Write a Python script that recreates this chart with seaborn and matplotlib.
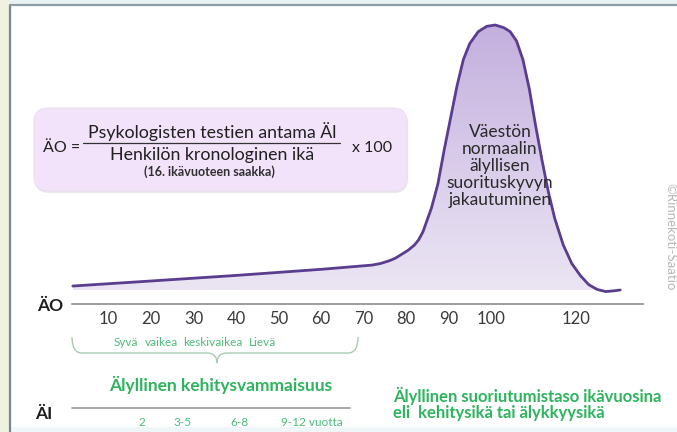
import numpy as np
import matplotlib
matplotlib.use("Agg")
import matplotlib.pyplot as plt
import seaborn as sns
from matplotlib.patches import FancyBboxPatch, PathPatch, Rectangle, Polygon
from matplotlib.path import Path
from matplotlib.transforms import Affine2D
from matplotlib.colors import LinearSegmentedColormap

# Population distribution curve: ÄO value vs relative height
iq = [1.6, 20, 40, 60, 72, 74, 76, 77.5, 79, 80.5, 82, 83, 84, 86, 87.5, 89, 90.5,
      92, 93.5, 95, 97, 99, 101, 103, 104.5, 106, 107.5, 109, 110.5, 112, 113.5,
      115, 117, 119, 121, 123, 125, 127, 129, 130.4]
height = [1.5, 3.4, 5.5, 7.8, 9.4, 10, 11, 12, 13.5, 15, 17, 19, 22, 31, 40, 53, 65,
          77, 87, 93, 97.5, 99.5, 100, 99, 97.5, 94, 87, 76, 62, 49, 37,
          27, 17, 10, 5.5, 2, 0.2, -0.6, -0.3, 0]
iq_ticks = [10, 20, 30, 40, 50, 60, 70, 80, 90, 100, 120]
levels = ["Syvä", "vaikea", "keskivaikea", "Lievä"]
ages = ["2", "3-5", "6-8", "9-12 vuotta"]
curve_text = "Väestön\nnormaalin\nälyllisen\nsuorituskyvyn\njakautuminen"

sns.set_style("white")
plt.rcParams["font.family"] = ["Lato", "DejaVu Sans"]

W, H = 677, 432
fig = plt.figure(figsize=(W / 100, H / 100), dpi=100)
fig.patch.set_facecolor("white")
ax = fig.add_axes([0, 0, 1, 1])
ax.patch.set_alpha(0)

# pixel mapping of the axes (value -> picture position)
x0, kx = 66, 4.25
y0, ky = 290, 2.65
px = Affine2D().scale(1 / W, -1 / H).translate(0, 1) + fig.transFigure

line_col = "#5a3d8e"
green = "#2fb35f"
light_green = "#4dba7c"

# curve and gradient fill
sns.lineplot(x=iq, y=height, ax=ax, color=line_col, lw=2.0, sort=False, zorder=5)
area = Polygon(list(zip(iq, height)) + [(iq[-1], 0), (iq[0], 0)], closed=True,
               fc="none", ec="none", transform=ax.transData)
ax.add_patch(area)
cmap = LinearSegmentedColormap.from_list("fillg", ["#ebe5f3", "#d8cbea", "#c3afdd"])
grad = np.linspace(0, 1, 256).reshape(-1, 1)
im = ax.imshow(grad, extent=[min(iq), max(iq), 0, max(height)], origin="lower",
               cmap=cmap, aspect="auto", zorder=2)
im.set_clip_path(area)

ax.set_xlim(-x0 / kx, (W - x0) / kx)
ax.set_ylim((y0 - H) / ky, y0 / ky)

# ÄO axis
sns.despine(ax=ax, left=True)
ax.spines["bottom"].set_position(("data", (y0 - 304) / ky))
ax.spines["bottom"].set_bounds((72 - x0) / kx, (643 - x0) / kx)
ax.spines["bottom"].set_color("#8c8c8c")
ax.spines["bottom"].set_linewidth(1.2)
ax.set_xticks(iq_ticks)
ax.set_yticks([])
ax.tick_params(axis="x", length=0, pad=5, labelsize=12, labelcolor="#3a3a3a")
ax.grid(False)

# frame of the slide
fig.add_artist(Rectangle((0, 0), 9, H, transform=px, color="#eef2de", lw=0))
fig.add_artist(Rectangle((9, 0), W, 4, transform=px, color="#e8f2f3", lw=0))
fig.add_artist(Rectangle((11, 427), W, 5, transform=px, color="#eef6f7", lw=0))
fig.add_artist(plt.Line2D([10, 10], [5, H], transform=px, color="#7b858e", lw=1.6))
fig.add_artist(plt.Line2D([10, W], [5, 5], transform=px, color="#8e9ea8", lw=1.6))

# formula box
shadow = FancyBboxPatch((35, 110), 373, 83, boxstyle="round,pad=0,rounding_size=14",
                        transform=px, fc="#e2dde6", ec="none", alpha=0.7)
box = FancyBboxPatch((34, 108), 373, 83, boxstyle="round,pad=0,rounding_size=14",
                     transform=px, fc="#f2e3fa", ec="#ebdff1", lw=0.8)
fig.add_artist(shadow)
fig.add_artist(box)
fig.text(43, 148, "ÄO =", transform=px, ha="left", va="center", fontsize=11.5,
         color="#202020")
fig.text(212, 132, "Psykologisten testien antama Äl", transform=px, ha="center",
         va="center", fontsize=12.8, color="#202020")
fig.add_artist(plt.Line2D([83, 340], [143, 143], transform=px, color="#333333", lw=0.9))
fig.text(212, 155, "Henkilön kronologinen ikä", transform=px, ha="center", va="center",
         fontsize=12.8, color="#202020")
fig.text(209, 172, "(16. ikävuoteen saakka)", transform=px, ha="center", va="center",
         fontsize=9, fontweight="bold", color="#303030")
fig.text(372, 148, "x 100", transform=px, ha="center", va="center", fontsize=11.5,
         color="#202020")

# text inside the curve
fig.text(500, 166, curve_text, transform=px, ha="center", va="center", fontsize=12.5,
         linespacing=1.08, color="#2a2a2a", zorder=6)

# axis names
fig.text(50, 306, "ÄO", transform=px, ha="center", va="center", fontsize=12.5,
         fontweight="bold", color="#1e1e1e")
fig.text(44, 414, "ÄI", transform=px, ha="center", va="center", fontsize=12.5,
         fontweight="bold", color="#1e1e1e")

# levels of intellectual disability and bracket
for name, xc in zip(levels, [126, 161, 213, 263]):
    fig.text(xc, 343, name, transform=px, ha="center", va="center", fontsize=8.5,
             color=light_green)
verts = [(72, 337), (72, 353), (82, 353), (207, 353), (217, 353), (217, 363),
         (217, 353), (227, 353), (348, 353), (358, 353), (358, 337)]
codes = [Path.MOVETO, Path.CURVE3, Path.CURVE3, Path.LINETO, Path.CURVE3, Path.CURVE3,
         Path.CURVE3, Path.CURVE3, Path.LINETO, Path.CURVE3, Path.CURVE3]
fig.add_artist(PathPatch(Path(verts, codes), transform=px, fc="none", ec="#a9cbb3", lw=1))
fig.text(221, 385, "Älyllinen kehitysvammaisuus", transform=px, ha="center",
         va="center", fontsize=12.5, fontweight="bold", color=green)

# ÄI axis
fig.add_artist(plt.Line2D([72, 350], [408, 408], transform=px, color="#9a9a9a", lw=1.2))
for name, xc in zip(ages, [142, 183, 239, 312]):
    fig.text(xc, 422, name, transform=px, ha="center", va="center", fontsize=8.5,
             color=light_green)
fig.text(393, 404, "Älyllinen suoriutumistaso ikävuosina\neli  kehitysikä tai älykkyysikä",
         transform=px, ha="left", va="center", fontsize=12, fontweight="bold",
         color=green, linespacing=1.0)

# watermark
fig.text(670, 237, "©Rinnekoti-Säätiö", transform=px, ha="center", va="center",
         rotation=-90, fontsize=9.5, color="#b8b8b8")

fig.savefig("out.png", dpi=100)
